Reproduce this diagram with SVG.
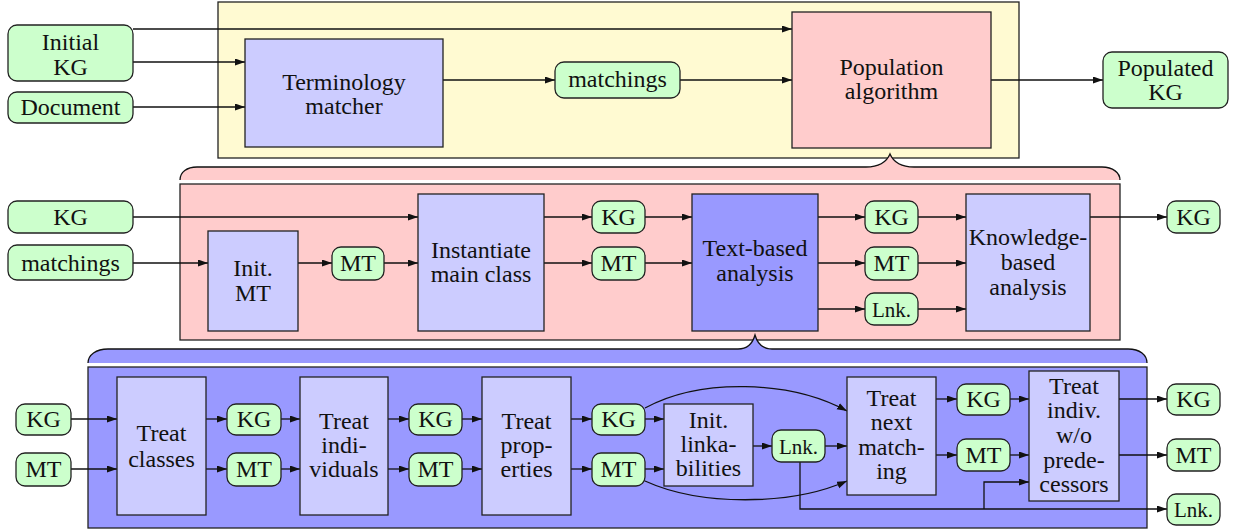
<svg xmlns="http://www.w3.org/2000/svg" width="1234" height="531" viewBox="0 0 1234 531" font-family="Liberation Serif, DejaVu Serif, serif">
<defs>
<marker id="ah" markerUnits="userSpaceOnUse" markerWidth="11" markerHeight="8" refX="10" refY="3.5" orient="auto">
<path d="M0,0 L10,3.5 L0,7 z" fill="#111"/>
</marker>
<style>
text{font-size:24px;fill:#111;text-anchor:middle}
.g{fill:#ccffcc;stroke:#222;stroke-width:1.3}
.l{fill:#ccccff;stroke:#222;stroke-width:1.3}
.d{fill:#9999ff;stroke:#222;stroke-width:1.3}
.p{fill:#ffcccc;stroke:#222;stroke-width:1.3}
.y{fill:#fffad2;stroke:#222;stroke-width:1.3}
.c path,.c line,.c polyline{fill:none;stroke:#111;stroke-width:1.3}
.a{marker-end:url(#ah)}
.bf{stroke:none}
.bs{fill:none;stroke:#111;stroke-width:1.3}
.s{font-size:21px}
</style>
</defs>
<rect width="1234" height="531" fill="#fff"/>

<g id="panel-top"><rect class="y" x="218" y="2" width="801" height="156"/></g>
<g id="brace-pink">
<path class="bf" fill="#ffcccc" d="M180,180 C180,172 187,167 197,167 L866,167 C880,167 887,161 890,154 C893,161 900,167 914,167 L1102,167 C1113,167 1120,173 1120,180 Z"/>
<path class="bs" d="M180,180 C180,172 187,167 197,167 L866,167 C880,167 887,161 890,154 C893,161 900,167 914,167 L1102,167 C1113,167 1120,173 1120,180"/>
</g>
<g id="panel-mid"><rect class="p" x="180" y="184" width="940" height="156"/></g>
<g id="brace-blue">
<path class="bf" fill="#9999ff" d="M88,363 C88,355 96,349 108,349 L738,349 C749,349 753,342 755,335 C757,342 761,349 772,349 L1128,349 C1140,349 1147,355 1147,363 Z"/>
<path class="bs" d="M88,363 C88,355 96,349 108,349 L738,349 C749,349 753,342 755,335 C757,342 761,349 772,349 L1128,349 C1140,349 1147,355 1147,363"/>
</g>
<g id="panel-bot"><rect class="d" x="88" y="367" width="1059" height="161"/></g>

<g id="connectors" class="c">
<line class="a" x1="133" y1="29" x2="792" y2="29"/>
<line class="a" x1="133" y1="62" x2="245" y2="62"/>
<line class="a" x1="133" y1="107" x2="245" y2="107"/>
<line class="a" x1="443" y1="80" x2="555" y2="80"/>
<line class="a" x1="680" y1="80" x2="792" y2="80"/>
<line class="a" x1="991" y1="80" x2="1103" y2="80"/>

<line class="a" x1="133" y1="217" x2="418" y2="217"/>
<line class="a" x1="133" y1="263" x2="208" y2="263"/>
<line class="a" x1="298" y1="263" x2="332" y2="263"/>
<line class="a" x1="384" y1="263" x2="418" y2="263"/>
<line class="a" x1="544" y1="217" x2="592" y2="217"/>
<line class="a" x1="544" y1="263" x2="592" y2="263"/>
<line class="a" x1="645" y1="217" x2="692" y2="217"/>
<line class="a" x1="645" y1="263" x2="692" y2="263"/>
<line class="a" x1="818" y1="217" x2="865" y2="217"/>
<line class="a" x1="818" y1="263" x2="865" y2="263"/>
<line class="a" x1="818" y1="309" x2="865" y2="309"/>
<line class="a" x1="918" y1="217" x2="966" y2="217"/>
<line class="a" x1="918" y1="263" x2="966" y2="263"/>
<line class="a" x1="918" y1="309" x2="966" y2="309"/>
<line class="a" x1="1090" y1="217" x2="1167" y2="217"/>

<line class="a" x1="71" y1="419" x2="117" y2="419"/>
<line class="a" x1="71" y1="469" x2="117" y2="469"/>
<line class="a" x1="206" y1="419" x2="227" y2="419"/>
<line class="a" x1="206" y1="469" x2="227" y2="469"/>
<line class="a" x1="281" y1="419" x2="300" y2="419"/>
<line class="a" x1="281" y1="469" x2="300" y2="469"/>
<line class="a" x1="388" y1="419" x2="409" y2="419"/>
<line class="a" x1="388" y1="469" x2="409" y2="469"/>
<line class="a" x1="462" y1="419" x2="482" y2="419"/>
<line class="a" x1="462" y1="469" x2="482" y2="469"/>
<line class="a" x1="571" y1="419" x2="592" y2="419"/>
<line class="a" x1="571" y1="469" x2="592" y2="469"/>
<line class="a" x1="645" y1="419" x2="664" y2="419"/>
<line class="a" x1="645" y1="469" x2="664" y2="469"/>
<path class="a" d="M645,408 C700,378 790,380 847,411"/>
<path class="a" d="M645,481 C700,506 790,506 847,481"/>
<line class="a" x1="753" y1="446" x2="772" y2="446"/>
<line class="a" x1="825" y1="446" x2="847" y2="446"/>
<line class="a" x1="936" y1="399" x2="957" y2="399"/>
<line class="a" x1="936" y1="455" x2="957" y2="455"/>
<line class="a" x1="1010" y1="399" x2="1029" y2="399"/>
<line class="a" x1="1010" y1="455" x2="1029" y2="455"/>
<polyline class="a" points="800,462 800,509 1167,509"/>
<polyline class="a" points="984,509 984,482 1029,482"/>
<line class="a" x1="1119" y1="399" x2="1167" y2="399"/>
<line class="a" x1="1119" y1="455" x2="1167" y2="455"/>
</g>

<g id="n-initial-kg"><rect class="g" x="8" y="25" width="125" height="56" rx="9"/><text x="70.5" y="50">Initial</text><text x="70.5" y="75">KG</text></g>
<g id="n-document"><rect class="g" x="8" y="92" width="125" height="31" rx="9"/><text x="70.5" y="115">Document</text></g>
<g id="n-term"><rect class="l" x="245" y="39" width="198" height="108"/><text x="344" y="90">Terminology</text><text x="344" y="114">matcher</text></g>
<g id="n-matchings"><rect class="g" x="555" y="62" width="125" height="36" rx="9"/><text x="617.5" y="87">matchings</text></g>
<g id="n-pop"><rect class="p" x="792" y="12" width="199" height="136"/><text x="891.5" y="75">Population</text><text x="891.5" y="99">algorithm</text></g>
<g id="n-populated"><rect class="g" x="1103" y="52" width="125" height="56" rx="9"/><text x="1165.5" y="76">Populated</text><text x="1165.5" y="100">KG</text></g>

<g id="m-kg-in"><rect class="g" x="8" y="201" width="125" height="32" rx="9"/><text x="70.5" y="225">KG</text></g>
<g id="m-match-in"><rect class="g" x="8" y="245" width="125" height="35" rx="9"/><text x="70.5" y="271">matchings</text></g>
<g id="m-initmt"><rect class="l" x="208" y="231" width="90" height="100"/><text x="253" y="276">Init.</text><text x="253" y="301">MT</text></g>
<g id="m-mt1"><rect class="g" x="332" y="247" width="52" height="33" rx="9"/><text x="358" y="271">MT</text></g>
<g id="m-inst"><rect class="l" x="418" y="194" width="126" height="137"/><text x="481" y="258">Instantiate</text><text x="481" y="282">main class</text></g>
<g id="m-kg2"><rect class="g" x="592" y="201" width="53" height="32" rx="9"/><text x="618.5" y="225">KG</text></g>
<g id="m-mt2"><rect class="g" x="592" y="247" width="53" height="33" rx="9"/><text x="618.5" y="271">MT</text></g>
<g id="m-text"><rect class="d" x="692" y="194" width="126" height="137"/><text x="755" y="256">Text-based</text><text x="755" y="281">analysis</text></g>
<g id="m-kg3"><rect class="g" x="865" y="201" width="53" height="32" rx="9"/><text x="891.5" y="225">KG</text></g>
<g id="m-mt3"><rect class="g" x="865" y="247" width="53" height="33" rx="9"/><text x="891.5" y="271">MT</text></g>
<g id="m-lnk3"><rect class="g" x="865" y="293" width="53" height="32" rx="9"/><text class="s" x="891.5" y="317">Lnk.</text></g>
<g id="m-know"><rect class="l" x="966" y="194" width="124" height="137"/><text x="1028" y="245">Knowledge-</text><text x="1028" y="270">based</text><text x="1028" y="295">analysis</text></g>
<g id="m-kg-out"><rect class="g" x="1167" y="201" width="53" height="32" rx="9"/><text x="1193.5" y="225">KG</text></g>

<g id="b-kg-in"><rect class="g" x="16" y="404" width="55" height="31" rx="9"/><text x="43.5" y="427">KG</text></g>
<g id="b-mt-in"><rect class="g" x="16" y="453" width="55" height="33" rx="9"/><text x="43.5" y="477">MT</text></g>
<g id="b-classes"><rect class="l" x="117" y="377" width="89" height="138"/><text x="161.5" y="441">Treat</text><text x="161.5" y="467">classes</text></g>
<g id="b-kg1"><rect class="g" x="227" y="404" width="54" height="31" rx="9"/><text x="254" y="427">KG</text></g>
<g id="b-mt1"><rect class="g" x="227" y="453" width="54" height="33" rx="9"/><text x="254" y="477">MT</text></g>
<g id="b-indiv"><rect class="l" x="300" y="377" width="88" height="138"/><text x="344" y="429">Treat</text><text x="344" y="453">indi-</text><text x="344" y="477">viduals</text></g>
<g id="b-kg2"><rect class="g" x="409" y="404" width="53" height="31" rx="9"/><text x="435.5" y="427">KG</text></g>
<g id="b-mt2"><rect class="g" x="409" y="453" width="53" height="33" rx="9"/><text x="435.5" y="477">MT</text></g>
<g id="b-props"><rect class="l" x="482" y="377" width="89" height="138"/><text x="526.5" y="429">Treat</text><text x="526.5" y="453">prop-</text><text x="526.5" y="477">erties</text></g>
<g id="b-kg3"><rect class="g" x="592" y="404" width="53" height="31" rx="9"/><text x="618.5" y="427">KG</text></g>
<g id="b-mt3"><rect class="g" x="592" y="453" width="53" height="33" rx="9"/><text x="618.5" y="477">MT</text></g>
<g id="b-initlink"><rect class="l" x="664" y="404" width="89" height="82"/><text x="708.5" y="428">Init.</text><text x="708.5" y="452">linka-</text><text x="708.5" y="476">bilities</text></g>
<g id="b-lnk"><rect class="g" x="772" y="430" width="53" height="32" rx="9"/><text class="s" x="798.5" y="454">Lnk.</text></g>
<g id="b-next"><rect class="l" x="847" y="377" width="89" height="118"/><text x="891.5" y="406">Treat</text><text x="891.5" y="430">next</text><text x="891.5" y="455">match-</text><text x="891.5" y="479">ing</text></g>
<g id="b-kg4"><rect class="g" x="957" y="384" width="53" height="31" rx="9"/><text x="983.5" y="407">KG</text></g>
<g id="b-mt4"><rect class="g" x="957" y="439" width="53" height="32" rx="9"/><text x="983.5" y="463">MT</text></g>
<g id="b-wo"><rect class="l" x="1029" y="371" width="90" height="130"/><text x="1074" y="394">Treat</text><text x="1074" y="418">indiv.</text><text x="1074" y="443">w/o</text><text x="1074" y="468">prede-</text><text x="1074" y="492">cessors</text></g>
<g id="b-kg-out"><rect class="g" x="1167" y="384" width="53" height="31" rx="9"/><text x="1193.5" y="407">KG</text></g>
<g id="b-mt-out"><rect class="g" x="1167" y="439" width="53" height="32" rx="9"/><text x="1193.5" y="463">MT</text></g>
<g id="b-lnk-out"><rect class="g" x="1167" y="494" width="53" height="31" rx="9"/><text class="s" x="1193.5" y="517">Lnk.</text></g>
</svg>
